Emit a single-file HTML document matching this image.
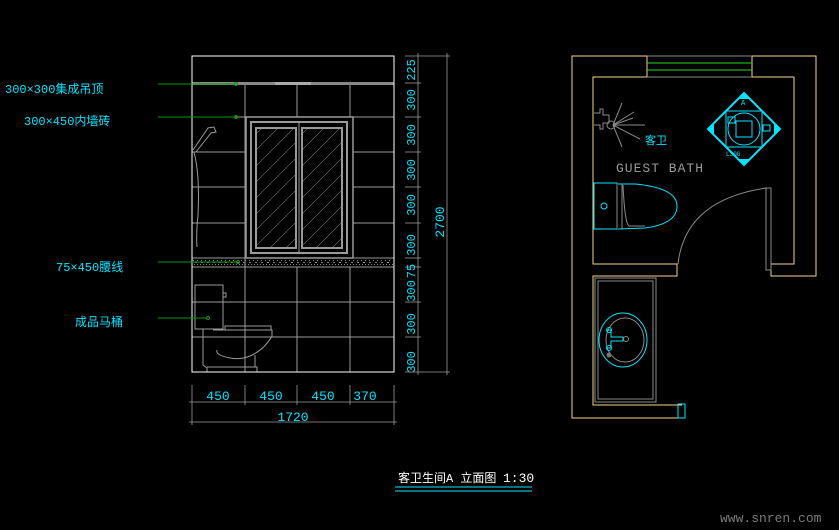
<!DOCTYPE html>
<html><head><meta charset="utf-8"><style>
html,body{margin:0;padding:0;background:#000;}
svg{display:block;}
text{font-family:"Liberation Mono","Noto Sans CJK SC",monospace;}
</style></head><body>
<svg width="839" height="530" viewBox="0 0 839 530" xmlns="http://www.w3.org/2000/svg">
<rect width="839" height="530" fill="#000"/>
<g fill="none" stroke="#9a9a9a" stroke-width="1">
  <line x1="245" y1="83" x2="245" y2="372"/>
  <line x1="297" y1="83" x2="297" y2="117"/>
  <line x1="297" y1="267" x2="297" y2="372"/>
  <line x1="350" y1="83" x2="350" y2="117"/>
  <line x1="350" y1="267" x2="350" y2="372"/>
  <line x1="192" y1="117" x2="394" y2="117"/>
  <line x1="192" y1="152" x2="394" y2="152"/>
  <line x1="192" y1="187" x2="394" y2="187"/>
  <line x1="192" y1="223" x2="394" y2="223"/>
  <line x1="192" y1="258" x2="394" y2="258"/>
  <line x1="192" y1="267" x2="394" y2="267"/>
  <line x1="192" y1="302" x2="394" y2="302"/>
  <line x1="192" y1="337" x2="394" y2="337"/>
</g>
<rect x="192" y="82" width="202" height="3" fill="#888"/>
<rect x="275" y="82" width="36" height="3" fill="#aaa"/>
<g stroke="#8a8a8a" stroke-width="1" stroke-dasharray="1 3">
  <line x1="193" y1="260.5" x2="393" y2="260.5"/>
  <line x1="195" y1="262.5" x2="393" y2="262.5" stroke-dasharray="2 4"/>
  <line x1="194" y1="264.5" x2="393" y2="264.5" stroke-dasharray="1 2"/>
</g>
<rect x="246" y="117" width="107" height="141" fill="#000" stroke="#9a9a9a" stroke-width="1.5"/>
<rect x="251" y="122" width="96" height="131" fill="none" stroke="#9a9a9a" stroke-width="2"/>
<rect x="256" y="128" width="40" height="120" fill="none" stroke="#9a9a9a" stroke-width="2"/>
<rect x="302" y="128" width="40" height="120" fill="none" stroke="#9a9a9a" stroke-width="2"/>
<line x1="299" y1="122" x2="299" y2="253" stroke="#9a9a9a" stroke-width="1"/>
<defs><clipPath id="p1"><rect x="257" y="129" width="38" height="118"/></clipPath>
<clipPath id="p2"><rect x="303" y="129" width="38" height="118"/></clipPath></defs>
<g stroke="#777" stroke-width="0.6" clip-path="url(#p1)">
  <path d="M240 150 L300 90 M240 166 L310 96 M240 182 L310 112 M240 198 L310 128 M240 214 L310 144 M240 230 L310 160 M240 246 L310 176 M240 262 L310 192 M240 278 L310 208 M240 294 L310 224 M240 310 L310 240"/>
</g>
<g stroke="#777" stroke-width="0.6" clip-path="url(#p2)">
  <path d="M286 150 L346 90 M286 166 L356 96 M286 182 L356 112 M286 198 L356 128 M286 214 L356 144 M286 230 L356 160 M286 246 L356 176 M286 262 L356 192 M286 278 L356 208 M286 294 L356 224 M286 310 L356 240"/>
</g>
<g fill="none" stroke="#9a9a9a" stroke-width="1">
  <path d="M193 150 L208 128 L214 127 L216 132 L211 133 L196 152"/>
  <path d="M194 152 Q200 175 198 215 Q196 235 197 247"/>
</g>
<g fill="none" stroke="#9a9a9a" stroke-width="1">
  <rect x="195" y="285" width="28" height="44"/>
  <path d="M223 293 h3 v4 h-3"/>
  <rect x="225" y="326" width="46" height="4"/>
  <path d="M213 330 L272 330 L272 336 Q264 350 250 356 Q240 360 230 358 Q215 355 217 350"/>
  <path d="M203 329 L203 365 L207 368 L207 372 M255 355 L255 367 M207 367 L257 367 L257 372"/>
</g>
<rect x="192" y="56" width="202" height="316" fill="none" stroke="#fff" stroke-width="1"/>
<g stroke="#0a9a0a" stroke-width="1" fill="none">
  <line x1="158" y1="84" x2="235" y2="84"/><circle cx="236" cy="84" r="1.5"/>
  <line x1="158" y1="117" x2="235" y2="117"/><circle cx="236" cy="117" r="1.5"/>
  <line x1="158" y1="262" x2="237" y2="262"/><circle cx="238" cy="262" r="1.5"/>
  <line x1="158" y1="318" x2="206" y2="318"/><circle cx="208" cy="318" r="1.5"/>
</g>
<g fill="#00e5ff" font-size="12">
  <text x="5" y="93">300×300集成吊顶</text>
  <text x="24" y="125">300×450内墙砖</text>
  <text x="56" y="271">75×450腰线</text>
  <text x="75" y="326">成品马桶</text>
</g>
<g stroke="#9a9a9a" stroke-width="0.8">
  <line x1="418" y1="53" x2="418" y2="375"/>
  <line x1="447" y1="53" x2="447" y2="375"/>
  <line x1="405" y1="56" x2="450" y2="56"/>
  <line x1="405" y1="372" x2="450" y2="372"/>
  <line x1="405" y1="83" x2="421" y2="83"/>
  <line x1="405" y1="117" x2="421" y2="117"/>
  <line x1="405" y1="152" x2="421" y2="152"/>
  <line x1="405" y1="187" x2="421" y2="187"/>
  <line x1="405" y1="223" x2="421" y2="223"/>
  <line x1="405" y1="258" x2="421" y2="258"/>
  <line x1="405" y1="267" x2="421" y2="267"/>
  <line x1="405" y1="302" x2="421" y2="302"/>
  <line x1="405" y1="337" x2="421" y2="337"/>
</g>
<g fill="#00e5ff" font-size="12">
  <text transform="translate(415,70) rotate(-90)" text-anchor="middle">225</text>
  <text transform="translate(415,100) rotate(-90)" text-anchor="middle">300</text>
  <text transform="translate(415,135) rotate(-90)" text-anchor="middle">300</text>
  <text transform="translate(415,170) rotate(-90)" text-anchor="middle">300</text>
  <text transform="translate(415,205) rotate(-90)" text-anchor="middle">300</text>
  <text transform="translate(415,245) rotate(-90)" text-anchor="middle">300</text>
  <text transform="translate(415,271) rotate(-90)" text-anchor="middle">75</text>
  <text transform="translate(415,291) rotate(-90)" text-anchor="middle">300</text>
  <text transform="translate(415,324) rotate(-90)" text-anchor="middle">300</text>
  <text transform="translate(415,362) rotate(-90)" text-anchor="middle">300</text>
  <text transform="translate(444,222) rotate(-90)" text-anchor="middle" font-size="13">2700</text>
</g>
<g stroke="#9a9a9a" stroke-width="0.8">
  <line x1="189" y1="402" x2="397" y2="402"/>
  <line x1="189" y1="422" x2="397" y2="422"/>
  <line x1="192" y1="385" x2="192" y2="425"/>
  <line x1="245" y1="385" x2="245" y2="405"/>
  <line x1="297" y1="385" x2="297" y2="405"/>
  <line x1="350" y1="385" x2="350" y2="405"/>
  <line x1="394" y1="385" x2="394" y2="425"/>
</g>
<g fill="#00e5ff" font-size="13" text-anchor="middle">
  <text x="218" y="400">450</text>
  <text x="271" y="400">450</text>
  <text x="323" y="400">450</text>
  <text x="365" y="400">370</text>
  <text x="293" y="421">1720</text>
</g>
<!-- PLAN -->
<g fill="none" stroke="#f5d58a" stroke-width="1">
  <path d="M647 56 L572 56 L572 418 L681 418"/>
  <path d="M647 77 L593 77 L593 264 L677 264 L677 276 L593 276 L593 405 L682 405"/>
  <path d="M752 77 L752 56 L816 56 L816 276 L771 276 L771 264 L794 264 L794 77 L752 77"/>
  <path d="M647 56 L647 77"/>
</g>
<rect x="678" y="404" width="7" height="14" fill="none" stroke="#00e5ff" stroke-width="1"/>
<line x1="647" y1="56" x2="752" y2="56" stroke="#888"/>
<line x1="647" y1="77" x2="752" y2="77" stroke="#888"/>
<line x1="647" y1="63" x2="752" y2="63" stroke="#22dd22"/>
<line x1="647" y1="70" x2="752" y2="70" stroke="#22dd22"/>
<path d="M678 264 Q685 200 766 188" fill="none" stroke="#8a8a8a"/>
<rect x="766" y="188" width="5" height="82" fill="none" stroke="#8a8a8a"/>
<g stroke="#8a8a8a" fill="none" stroke-width="1">
  <path d="M594 113 h6 v-4 h3 v6 h6 v8 h-6 v6 h-3 v-4 h-6"/>
  <circle cx="611" cy="125" r="4"/>
  <path d="M613 125 L645 125 M613 125 L634 112 M613 125 L622 103 M613 125 L640 139 M613 125 L622 147 M613 125 L633 118"/>
</g>
<text x="645" y="144" fill="#00e5ff" font-size="11">客卫</text>
<text x="616" y="172" fill="#9a9a9a" font-size="13" letter-spacing="1">GUEST BATH</text>
<g transform="translate(744,129)">
  <path d="M0 -36 L36 0 L0 36 L-36 0 Z" fill="none" stroke="#00e5ff" stroke-width="2"/>
  <path d="M-36 0 L-30 -6 L-30 6 Z M36 0 L30 -6 L30 6 Z M0 -36 L-6 -30 L6 -30 Z M0 36 L-6 30 L6 30 Z" fill="#00e5ff"/>
  <rect x="-18" y="-18" width="36" height="36" fill="none" stroke="#00e5ff"/>
  <rect x="-8" y="-8" width="16" height="16" fill="none" stroke="#00e5ff"/>
  <circle cx="0" cy="0" r="16" fill="none" stroke="#00e5ff"/>
  <text x="-3" y="-24" fill="#00e5ff" font-size="7">A</text>
  <text x="-18" y="27" fill="#00e5ff" font-size="6">L30G</text>
  <rect x="-16" y="-12" width="7" height="6" fill="none" stroke="#00e5ff"/>
  <rect x="19" y="-4" width="7" height="6" fill="none" stroke="#00e5ff"/>
</g>
<g fill="none" stroke="#00e5ff" stroke-width="1">
  <rect x="594" y="183" width="23" height="46"/>
  <path d="M618 184 L635 184 Q678 188 677 207 Q676 224 645 228 L618 229"/>
  <circle cx="604" cy="206" r="3"/>
</g>
<path d="M617 184 v45 M622 184 v45 M623 185 Q625 228 630 226 L645 226" fill="none" stroke="#8a8a8a"/>
<rect x="595" y="278" width="61" height="124" fill="none" stroke="#8a8a8a"/>
<rect x="598" y="281" width="55" height="118" fill="none" stroke="#8a8a8a"/>
<ellipse cx="623" cy="340" rx="24" ry="27" fill="none" stroke="#00e5ff"/>
<ellipse cx="625" cy="340" rx="19" ry="22" fill="none" stroke="#8a8a8a"/>
<g stroke="#00e5ff" fill="none">
  <path d="M606 330 h5 v7 h12 v4 h-12 v7 h-5"/>
  <circle cx="609" cy="330" r="2.5"/><circle cx="609" cy="348" r="2.5"/>
</g>
<circle cx="626" cy="339" r="2.5" fill="none" stroke="#8a8a8a"/>
<circle cx="609" cy="355" r="2.5" fill="#777"/>
<text x="398" y="482" fill="#fff" font-size="12">客卫生间A 立面图</text>
<text x="503" y="482" fill="#fff" font-size="13">1:30</text>
<line x1="395" y1="487" x2="532" y2="487" stroke="#00e5ff"/>
<line x1="395" y1="491" x2="532" y2="491" stroke="#00e5ff"/>
<text x="720" y="522" fill="#7a7a7a" font-size="13" font-family="Liberation Serif,serif">www.snren.com</text>
</svg>
</body></html>
